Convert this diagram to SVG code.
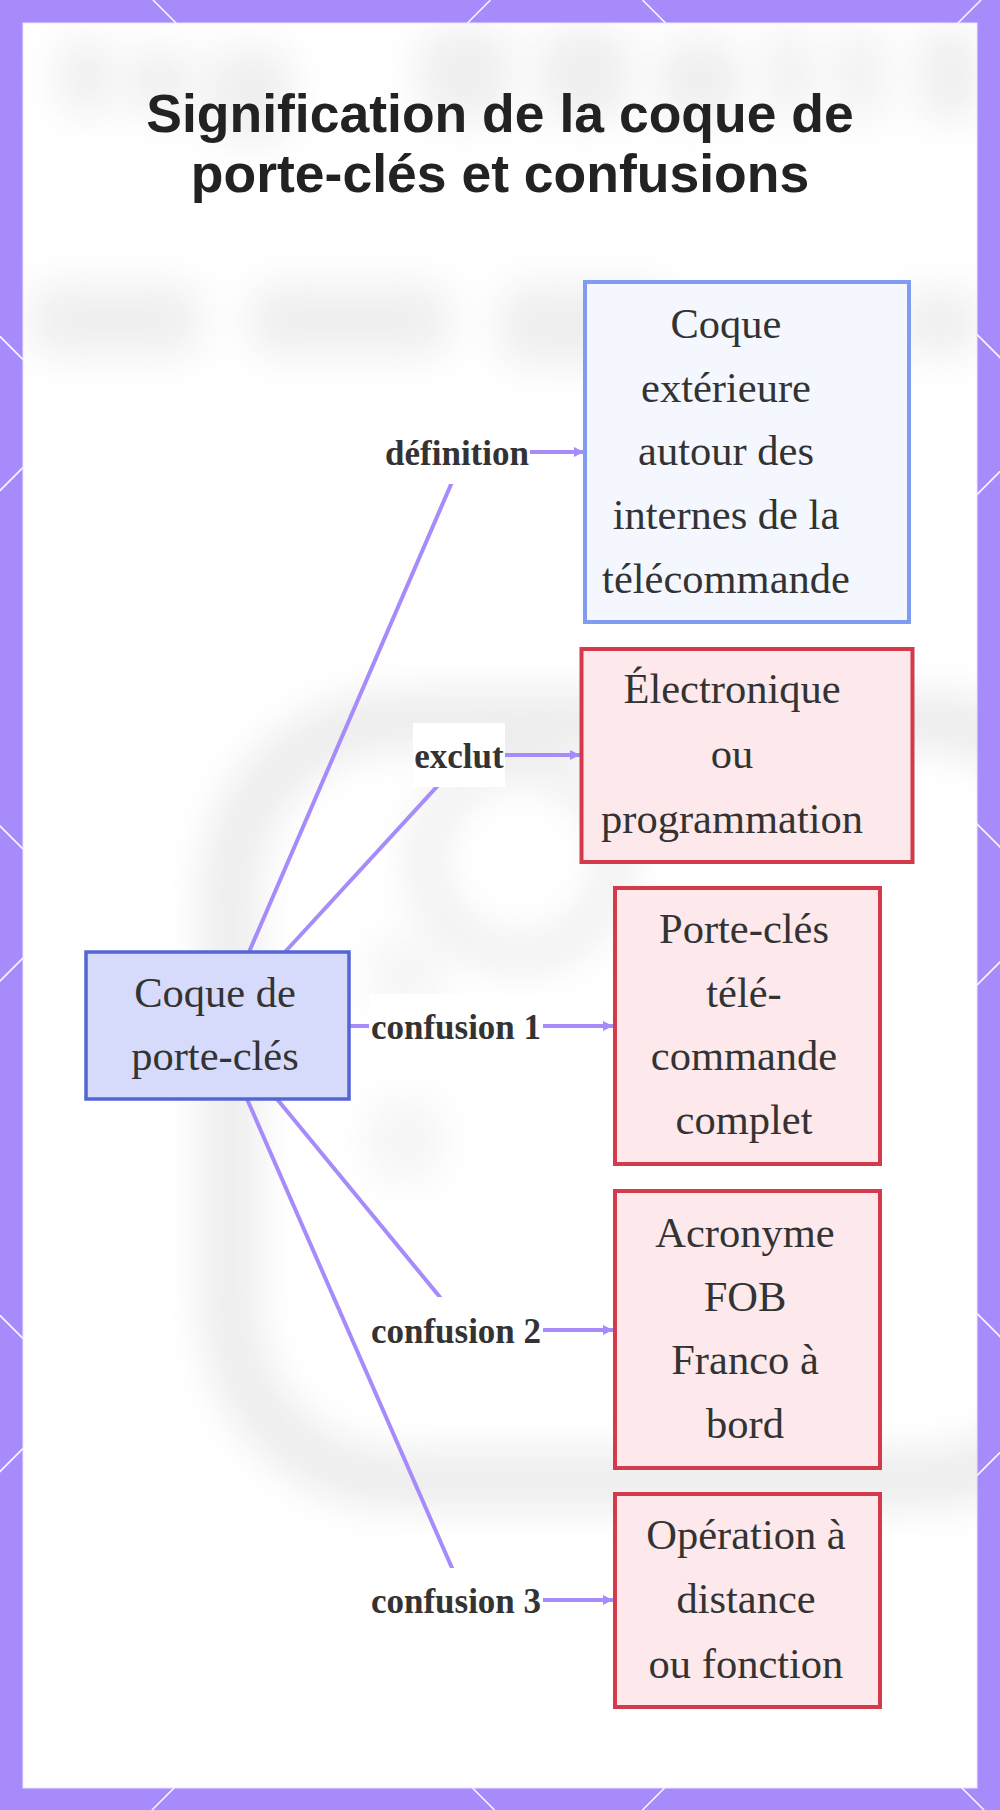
<svg xmlns="http://www.w3.org/2000/svg" width="1000" height="1810" viewBox="0 0 1000 1810">
<defs>
<style>
.title{font-family:"Liberation Sans",Arial,sans-serif;font-weight:bold;font-size:53.5px;fill:#222;text-anchor:middle}
.nt{font-family:"Liberation Serif","Times New Roman",serif;font-size:42.5px;fill:#333;text-anchor:middle}
.lt{font-family:"Liberation Serif","Times New Roman",serif;font-weight:bold;font-size:35px;fill:#333;text-anchor:middle}
.grid{stroke:#ffffff;stroke-width:1.6;stroke-opacity:0.9}
.edge{fill:none;stroke:#a78bfa;stroke-width:4;stroke-linejoin:round}
.lbg{fill:#ffffff}
.main{fill:#d6dbfb;stroke:#5566d4;stroke-width:3.5}
.def{fill:#f5f7fe;stroke:#7f9cf3;stroke-width:4}
.bad{fill:#fde8eb;stroke:#d33a4c;stroke-width:4}
.wm{fill:#dedede}
.wms{fill:none;stroke:#d9d9d9}
</style>
<marker id="arr" viewBox="0 0 10 10" refX="10" refY="5" markerUnits="userSpaceOnUse" markerWidth="10" markerHeight="10" orient="auto">
<path d="M0,0 L10,5 L0,10 z" fill="#a78bfa"/>
</marker>
<filter id="blur" x="-20%" y="-20%" width="140%" height="140%">
<feGaussianBlur stdDeviation="20"/>
</filter>
<clipPath id="panel"><rect x="23" y="23" width="954" height="1765"/></clipPath>
</defs>

<!-- frame -->
<rect x="0" y="0" width="1000" height="1810" fill="#a78bfa"/>
<g id="frame-grid">
<line class="grid" x1="490.5" y1="0" x2="-1319.5" y2="1810"/>
<line class="grid" x1="981" y1="0" x2="-829" y2="1810"/>
<line class="grid" x1="1471.5" y1="0" x2="-338.5" y2="1810"/>
<line class="grid" x1="1962" y1="0" x2="152" y2="1810"/>
<line class="grid" x1="2452.5" y1="0" x2="642.5" y2="1810"/>
<line class="grid" x1="-1315.5" y1="0" x2="494.5" y2="1810"/>
<line class="grid" x1="-826" y1="0" x2="984" y2="1810"/>
<line class="grid" x1="-336.5" y1="0" x2="1473.5" y2="1810"/>
<line class="grid" x1="153" y1="0" x2="1963" y2="1810"/>
<line class="grid" x1="642.5" y1="0" x2="2452.5" y2="1810"/>
</g>
<rect x="23" y="23" width="954" height="1765" fill="#ffffff" stroke="#ece6ff" stroke-width="1"/>

<!-- faint blurred background -->
<g id="watermark" clip-path="url(#panel)" filter="url(#blur)" opacity="0.5">
<rect class="wm" x="60" y="40" width="50" height="75" rx="15"/>
<rect class="wm" x="130" y="50" width="60" height="65" rx="15"/>
<rect class="wm" x="210" y="50" width="80" height="90" rx="15"/>
<rect class="wm" x="420" y="30" width="90" height="90" rx="20"/>
<rect class="wm" x="540" y="30" width="90" height="90" rx="20"/>
<rect class="wm" x="660" y="40" width="80" height="80" rx="20"/>
<rect class="wm" x="770" y="30" width="40" height="90" rx="15"/>
<rect class="wm" x="840" y="30" width="40" height="90" rx="15"/>
<rect class="wm" x="920" y="30" width="60" height="90" rx="15"/>
<rect class="wm" x="30" y="285" width="170" height="70" rx="20"/>
<rect class="wm" x="250" y="285" width="200" height="70" rx="20"/>
<rect class="wm" x="500" y="285" width="170" height="80" rx="20"/>
<rect class="wm" x="900" y="290" width="80" height="65" rx="20"/>
<rect class="wms" x="230" y="720" width="860" height="760" rx="170" stroke-width="55"/>
<circle class="wms" cx="520" cy="860" r="95" stroke-width="30"/>
<rect class="wm" x="370" y="940" width="70" height="70" rx="10" opacity="0.6"/>
<rect class="wm" x="370" y="1100" width="70" height="80" rx="10" opacity="0.6"/>
</g>

<!-- title -->
<g id="title">
<text class="title" x="500" y="132">Signification de la coque de</text>
<text class="title" x="500" y="192">porte-clés et confusions</text>
</g>

<!-- connectors -->
<g id="connectors">
<path class="edge" d="M249,952 L465,452 L584,452" marker-end="url(#arr)"/>
<path class="edge" d="M285,952 L466,755 L580,755" marker-end="url(#arr)"/>
<path class="edge" d="M349,1026 L613,1026" marker-end="url(#arr)"/>
<path class="edge" d="M277,1099 L467,1330 L613,1330" marker-end="url(#arr)"/>
<path class="edge" d="M247,1099 L466,1600 L613,1600" marker-end="url(#arr)"/>
</g>

<!-- edge labels -->
<g id="edge-labels">
<g id="label-definition">
<rect class="lbg" x="384" y="420" width="146" height="64"/>
<text class="lt" x="457" y="465">définition</text>
</g>
<g id="label-exclut">
<rect class="lbg" x="413" y="723" width="92" height="64"/>
<text class="lt" x="459" y="768">exclut</text>
</g>
<g id="label-confusion1">
<rect class="lbg" x="369" y="994" width="174" height="64"/>
<text class="lt" x="456" y="1039">confusion 1</text>
</g>
<g id="label-confusion2">
<rect class="lbg" x="369" y="1297" width="174" height="65"/>
<text class="lt" x="456" y="1343">confusion 2</text>
</g>
<g id="label-confusion3">
<rect class="lbg" x="369" y="1568" width="174" height="64"/>
<text class="lt" x="456" y="1613">confusion 3</text>
</g>
</g>

<!-- nodes -->
<g id="node-coque">
<rect class="main" x="86" y="952" width="263" height="147"/>
<text class="nt" x="215" y="1007">Coque de</text>
<text class="nt" x="215" y="1070">porte-clés</text>
</g>
<g id="node-definition">
<rect class="def" x="585" y="282" width="324" height="340"/>
<text class="nt" x="726" y="338">Coque</text>
<text class="nt" x="726" y="402">extérieure</text>
<text class="nt" x="726" y="465">autour des</text>
<text class="nt" x="726" y="529">internes de la</text>
<text class="nt" x="726" y="593">télécommande</text>
</g>
<g id="node-exclut">
<rect class="bad" x="581.5" y="649" width="331" height="213"/>
<text class="nt" x="732" y="703">Électronique</text>
<text class="nt" x="732" y="768">ou</text>
<text class="nt" x="732" y="833">programmation</text>
</g>
<g id="node-confusion1">
<rect class="bad" x="615" y="888" width="265" height="276"/>
<text class="nt" x="744" y="943">Porte-clés</text>
<text class="nt" x="744" y="1007">télé-</text>
<text class="nt" x="744" y="1070">commande</text>
<text class="nt" x="744" y="1134">complet</text>
</g>
<g id="node-confusion2">
<rect class="bad" x="615" y="1191" width="265" height="277"/>
<text class="nt" x="745" y="1247">Acronyme</text>
<text class="nt" x="745" y="1311">FOB</text>
<text class="nt" x="745" y="1374">Franco à</text>
<text class="nt" x="745" y="1438">bord</text>
</g>
<g id="node-confusion3">
<rect class="bad" x="615" y="1494" width="265" height="213"/>
<text class="nt" x="746" y="1549">Opération à</text>
<text class="nt" x="746" y="1613">distance</text>
<text class="nt" x="746" y="1678">ou fonction</text>
</g>
</svg>
